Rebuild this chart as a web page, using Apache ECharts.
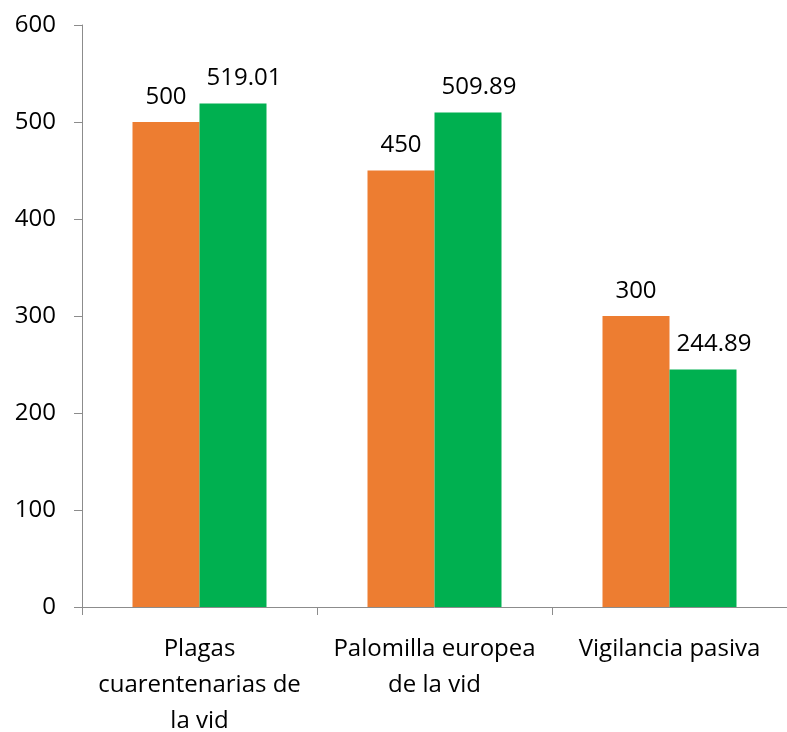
<!DOCTYPE html>
<html><head><meta charset="utf-8">
<script src="https://cdn.jsdelivr.net/npm/echarts@6/dist/echarts.min.js"></script>
<style>html,body{margin:0;padding:0;background:#fff}#c{width:787px;height:732px}</style>
</head><body><div id="c"></div>
<script>
const categories = ["Plagas\ncuarentenarias de\nla vid", "Palomilla europea\nde la vid", "Vigilancia pasiva"];
const seriesA = [500, 450, 300];
const seriesB = [519.01, 509.89, 244.89];
const yTicks = [0, 100, 200, 300, 400, 500, 600];

const font = "'Open Sans', 'Liberation Sans', sans-serif";
const chart = echarts.init(document.getElementById('c'));
const labelStyle = {show: true, position: 'top', distance: 13, color: '#000', fontSize: 24, fontFamily: font};
chart.setOption({
  animation: false,
  grid: {left: 82, right: 0, top: 25, bottom: 125, containLabel: false, outerBoundsMode: 'none'},
  xAxis: {
    type: 'category', data: categories,
    axisLine: {lineStyle: {color: '#8c8c8c', width: 1}},
    axisTick: {show: true, length: 8, lineStyle: {color: '#8c8c8c'}},
    axisLabel: {color: '#000', fontSize: 24, fontFamily: font, lineHeight: 36, margin: 24, interval: 0}
  },
  yAxis: {
    type: 'value', min: yTicks[0], max: yTicks[yTicks.length-1], interval: 100,
    axisLine: {show: true, lineStyle: {color: '#8c8c8c', width: 1}},
    axisTick: {show: true, length: 8, lineStyle: {color: '#8c8c8c'}},
    splitLine: {show: false},
    axisLabel: {color: '#000', fontSize: 24, fontFamily: font, margin: 26}
  },
  series: [
    {type: 'bar', data: seriesA, barWidth: 67, barGap: '0%', itemStyle: {color: '#ED7D31'}, label: labelStyle},
    {type: 'bar', data: seriesB, barWidth: 67, barGap: '0%', itemStyle: {color: '#00B050'},
      label: Object.assign({}, labelStyle, {offset: [11, 0]})}
  ]
});
</script></body></html>
